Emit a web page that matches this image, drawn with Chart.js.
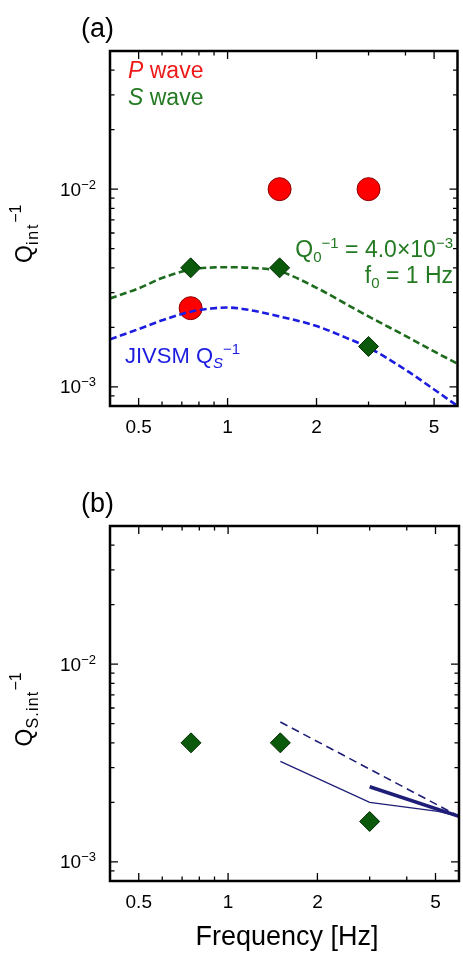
<!DOCTYPE html>
<html>
<head>
<meta charset="utf-8">
<script src="https://cdn.jsdelivr.net/npm/chart.js@4/dist/chart.umd.min.js"></script>
<style>
html, body { margin: 0; padding: 0; overflow: hidden; background: #fff; }
canvas { position: absolute; left: 0; }
#panel-a { top: 0; }
#panel-b { top: 475px; }
</style>
</head>
<body>
<canvas id="panel-a" width="470" height="445"></canvas>
<canvas id="panel-b" width="470" height="478"></canvas>
<script>
var FONT = '"Liberation Sans", Arial, Helvetica, sans-serif';

// band centre frequencies [Hz] and intrinsic attenuation per band
var bandFreq = [0.75, 1.5, 3];
var qpInt = [2.5e-3, 1.0e-2, 1.0e-2];
var qsInt = [4.0e-3, 4.0e-3, 1.6e-3];

// model curves (Q0^-1 = 4.0e-3, f0 = 1 Hz) and JIVSM Qs^-1
var curveFreq = [0.4, 0.5, 0.6, 0.75, 0.9, 1.0, 1.2, 1.5, 2.0, 2.5, 3.0, 4.0, 5.0, 6.0];
var fitQs = [2.8e-3, 3.15e-3, 3.55e-3, 3.92e-3, 4.02e-3, 4.03e-3, 4.0e-3, 3.84e-3, 3.17e-3, 2.64e-3, 2.27e-3, 1.81e-3, 1.51e-3, 1.31e-3];
var jivsmQs = [1.74e-3, 1.96e-3, 2.17e-3, 2.4e-3, 2.5e-3, 2.52e-3, 2.44e-3, 2.27e-3, 2.03e-3, 1.78e-3, 1.58e-3, 1.22e-3, 9.7e-4, 8.0e-4];

// other estimates shown in panel (b)
var dashFreq = [1.5, 6];
var dashQs = [5.1e-3, 1.7e-3];
var thinFreq = [1.5, 3, 5.1, 6];
var thinQs = [3.22e-3, 2.0e-3, 1.8e-3, 1.7e-3];
var thickFreq = [3, 6];
var thickQs = [2.4e-3, 1.7e-3];

// axis ticks
var xMajor = [0.5, 1, 2, 5];
var xMinor = [0.6, 0.7, 0.8, 0.9, 3, 4];
var yMajor = [1e-3, 1e-2];
var yMajorExp = ['\u22123', '\u22122'];
var yMinor = [9e-4, 2e-3, 3e-3, 4e-3, 5e-3, 6e-3, 7e-3, 8e-3, 9e-3, 2e-2, 3e-2, 4e-2];

var GREEN_LINE = '#1d6b1d', GREEN_TEXT = '#237a23';
var BLUE = '#1c1ce0', RED = '#ee1a1a', NAVY = '#1e1e78';

function pts(xs, ys) {
    return xs.map(function(x, i) { return { x: x, y: ys[i] }; });
}

function font(size, italic) {
    return (italic ? 'italic ' : '') + size + 'px ' + FONT;
}

// one line made of pieces: [text, size, dy, italic, letterSpacing]
function richText(ctx, parts, x, y, align, color) {
    var widths = [], total = 0;
    parts.forEach(function(p) {
        ctx.font = font(p[1], p[3]);
        ctx.letterSpacing = (p[4] || 0) + 'px';
        var w = ctx.measureText(p[0]).width;
        widths.push(w);
        total += w;
    });
    var cx = x;
    if (align === 'right') cx = x - total;
    if (align === 'center') cx = x - total / 2;
    ctx.fillStyle = color;
    ctx.textAlign = 'left';
    ctx.textBaseline = 'alphabetic';
    parts.forEach(function(p, i) {
        ctx.font = font(p[1], p[3]);
        ctx.letterSpacing = (p[4] || 0) + 'px';
        ctx.fillText(p[0], cx, y + (p[2] || 0));
        cx += widths[i];
    });
    ctx.letterSpacing = '0px';
}

// frame with inward ticks on all sides, tick labels and panel texts
var axesPlugin = {
    id: 'axesPlugin',
    afterDraw: function(chart, args, opts) {
        var ctx = chart.ctx, a = chart.chartArea;
        var xs = chart.scales.x, ys = chart.scales.y;
        ctx.save();

        ctx.strokeStyle = '#000';
        ctx.lineWidth = 1.3;
        ctx.beginPath();
        function tickX(v, len) {
            var px = xs.getPixelForValue(v);
            ctx.moveTo(px, a.bottom); ctx.lineTo(px, a.bottom - len);
            ctx.moveTo(px, a.top); ctx.lineTo(px, a.top + len);
        }
        function tickY(v, len) {
            var py = ys.getPixelForValue(v);
            ctx.moveTo(a.left, py); ctx.lineTo(a.left + len, py);
            ctx.moveTo(a.right, py); ctx.lineTo(a.right - len, py);
        }
        xMajor.forEach(function(v) { tickX(v, 8); });
        xMinor.forEach(function(v) { tickX(v, 4.5); });
        yMajor.forEach(function(v) { tickY(v, 8); });
        yMinor.forEach(function(v) { tickY(v, 4.5); });
        ctx.stroke();

        ctx.lineWidth = 2.5;
        ctx.strokeRect(a.left, a.top, a.right - a.left, a.bottom - a.top);

        ctx.fillStyle = '#000';
        ctx.font = font(19);
        ctx.textAlign = 'center';
        ctx.textBaseline = 'alphabetic';
        xMajor.forEach(function(v) {
            ctx.fillText(String(v), xs.getPixelForValue(v), a.bottom + 27);
        });
        yMajor.forEach(function(v, i) {
            richText(ctx, [['10', 19], [yMajorExp[i], 13, -7]], a.left - 14, ys.getPixelForValue(v) + 6.5, 'right', '#000');
        });

        richText(ctx, [[opts.letter, 27]], 81, 37, 'left', '#000');

        ctx.save();
        ctx.translate(31.5, opts.yTitleStart);
        ctx.rotate(-Math.PI / 2);
        richText(ctx, opts.yTitle, 0, 0, 'left', '#000');
        ctx.restore();

        if (opts.xTitle) {
            richText(ctx, [[opts.xTitle, 27]], 287, a.bottom + 64, 'center', '#000');
        }
        (opts.notes || []).forEach(function(n) {
            richText(ctx, n.parts, n.x, n.y, n.align, n.color);
        });
        ctx.restore();
    }
};

function makeChart(id, datasets, panel, bottomPad) {
    return new Chart(document.getElementById(id), {
        type: 'scatter',
        data: { datasets: datasets },
        options: {
            responsive: false,
            animation: false,
            events: [],
            layout: { padding: { top: 51, left: 110, right: 5.6, bottom: bottomPad } },
            scales: {
                x: { type: 'logarithmic', min: 0.4, max: 6, display: false },
                y: { type: 'logarithmic', min: 8e-4, max: 5e-2, display: false }
            },
            plugins: {
                legend: { display: false },
                tooltip: { enabled: false },
                axesPlugin: panel
            }
        },
        plugins: [axesPlugin]
    });
}

function diamonds() {
    return {
        data: pts(bandFreq, qsInt),
        pointStyle: 'rectRot',
        pointRadius: 10,
        backgroundColor: '#0b5a0b',
        borderColor: '#052e05',
        borderWidth: 1,
        order: 0
    };
}

function line(xs, ys, color, width, dash, order, smooth) {
    return {
        data: pts(xs, ys),
        showLine: true,
        pointRadius: 0,
        borderColor: color,
        borderWidth: width,
        borderDash: dash,
        cubicInterpolationMode: smooth ? 'monotone' : 'default',
        order: order
    };
}

// (a) P and S wave intrinsic attenuation
makeChart('panel-a', [
    diamonds(),
    line(curveFreq, jivsmQs, BLUE, 2.6, [7, 3.5], 1, true),
    {
        data: pts(bandFreq, qpInt),
        pointStyle: 'circle',
        pointRadius: 11.5,
        backgroundColor: '#ff0000',
        borderColor: '#8a0000',
        borderWidth: 1,
        order: 2
    },
    line(curveFreq, fitQs, GREEN_LINE, 2.6, [7, 3.5], 3, true)
], {
    letter: '(a)',
    yTitleStart: 263,
    yTitle: [['Q', 23], ['int', 16, 6, false, 1.8], ['\u22121', 16, -11]],
    notes: [
        { parts: [['P', 23, 0, true], [' wave', 23]], x: 128, y: 78, align: 'left', color: RED },
        { parts: [['S', 23, 0, true], [' wave', 23]], x: 128, y: 104.5, align: 'left', color: GREEN_TEXT },
        { parts: [['Q', 23], ['0', 15, 5], ['\u22121', 15, -9], [' = 4.0\u00d710', 23], ['\u22123', 15, -9]], x: 453, y: 256.5, align: 'right', color: GREEN_TEXT },
        { parts: [['f', 23], ['0', 15, 5], [' = 1 Hz', 23]], x: 453, y: 283, align: 'right', color: GREEN_TEXT },
        { parts: [['JIVSM Q', 22], ['S', 15, 5, true], ['\u22121', 15, -9]], x: 125, y: 363, align: 'left', color: BLUE }
    ]
}, 39);

// (b) S wave intrinsic attenuation with other estimates
makeChart('panel-b', [
    diamonds(),
    line(thickFreq, thickQs, NAVY, 3.6, [], 1, false),
    line(thinFreq, thinQs, NAVY, 1.3, [], 2, false),
    line(dashFreq, dashQs, NAVY, 1.6, [8, 5], 3, false)
], {
    letter: '(b)',
    yTitleStart: 271.5,
    yTitle: [['Q', 23], ['S.int', 16, 6, false, 1.2], ['\u22121', 16, -11]],
    xTitle: 'Frequency [Hz]'
}, 72);
</script>
</body>
</html>
